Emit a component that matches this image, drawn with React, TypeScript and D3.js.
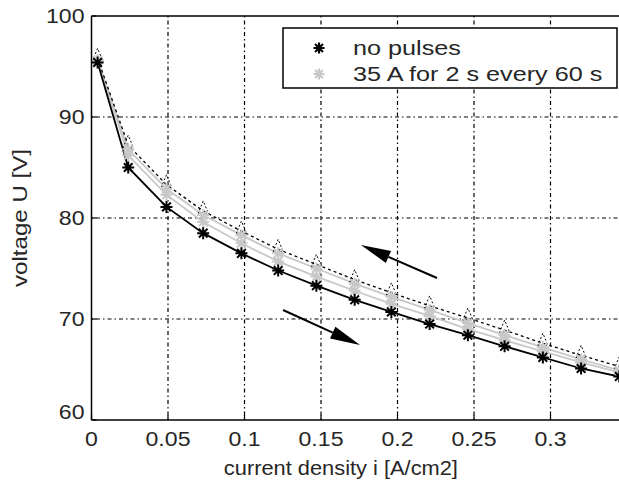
import React from 'react';
import * as d3 from 'd3';

// current density sample points [A/cm2]
const current = [0.004, 0.024, 0.049, 0.073, 0.098, 0.122, 0.147, 0.172, 0.196, 0.221, 0.246, 0.27, 0.295, 0.32, 0.345];

// voltage [V]
const noPulsesUp = [95.4, 85.0, 81.1, 78.5, 76.5, 74.8, 73.3, 71.9, 70.7, 69.5, 68.4, 67.3, 66.2, 65.1, 64.3];
const noPulsesDown = [95.8, 87.2, 83.3, 80.7, 78.7, 76.9, 75.4, 73.9, 72.6, 71.3, 70.1, 68.9, 67.6, 66.4, 65.3];
const pulsesUp = [95.6, 86.2, 82.3, 79.6, 77.5, 75.7, 74.2, 72.8, 71.5, 70.3, 69.0, 67.9, 66.8, 65.7, 64.7];
const pulsesDown = [95.6, 86.8, 82.9, 80.3, 78.3, 76.5, 75.0, 73.5, 72.2, 70.9, 69.6, 68.4, 67.2, 66.0, 64.9];

const xTicks = [0, 0.05, 0.1, 0.15, 0.2, 0.25, 0.3];
const xTickLabels = ['0', '0.05', '0.1', '0.15', '0.2', '0.25', '0.3'];
const yTicks = [60, 70, 80, 90, 100];

const legendLabels = ['no pulses', '35 A for 2 s every 60 s'];

// arrows in data units: [x1, y1, x2(tip), y2(tip)]
const arrowDown = [0.2258, 74.06, 0.1761, 77.33];
const arrowUp = [0.1252, 70.89, 0.1755, 67.43];

const W = 619;
const H = 487;
const GRAY = '#c8c8c8';
const INK = '#262626';
const FONT = 'Liberation Sans, Arial, sans-serif';
const SX = 1.1; // horizontal stretch of the text in the picture

const x = d3.scaleLinear().domain([0, 0.35]).range([91.5, 627]);
const y = d3.scaleLinear().domain([60, 100]).range([420, 16]);

const star = (r: number) => {
  const a = r * 0.72;
  return `M${-r},0L${r},0M0,${-r}L0,${r}M${-a},${-a}L${a},${a}M${-a},${a}L${a},${-a}`;
};

const lineGen = d3
  .line<number>()
  .x((_, i) => x(current[i]))
  .y((v) => y(v));

const Arrow = ({ a }: { a: number[] }) => {
  const x1 = x(a[0]);
  const y1 = y(a[1]);
  const x2 = x(a[2]);
  const y2 = y(a[3]);
  const ang = Math.atan2(y2 - y1, x2 - x1);
  const len = 30;
  const hw = 6.5;
  const bx = x2 - len * Math.cos(ang);
  const by = y2 - len * Math.sin(ang);
  const px = -Math.sin(ang) * hw;
  const py = Math.cos(ang) * hw;
  return (
    <g>
      <line x1={x1} y1={y1} x2={bx} y2={by} stroke="#000" strokeWidth={2} />
      <polygon points={`${x2},${y2} ${bx + px},${by + py} ${bx - px},${by - py}`} fill="#000" />
    </g>
  );
};

const App = () => {
  const grid = '1.5,3,4,3';
  return (
    <svg width={W} height={H} style={{ position: 'absolute', left: 0, top: 0, background: '#fff' }} fontFamily={FONT}>
      <rect x={0} y={0} width={W} height={H} fill="#fff" />
      {/* grid */}
      {xTicks.slice(1).map((t) => (
        <line key={'gx' + t} x1={x(t)} x2={x(t)} y1={y(100)} y2={y(60)} stroke="#000" strokeWidth={1.2} strokeDasharray={grid} />
      ))}
      {yTicks.slice(1, -1).map((t) => (
        <line key={'gy' + t} x1={x(0)} x2={x(0.35)} y1={y(t)} y2={y(t)} stroke="#000" strokeWidth={1.2} strokeDasharray={grid} />
      ))}

      {/* curves */}
      <path d={lineGen(pulsesDown) || ''} fill="none" stroke={GRAY} strokeWidth={1.8} />
      <path d={lineGen(pulsesUp) || ''} fill="none" stroke={GRAY} strokeWidth={1.8} />
      <path d={lineGen(noPulsesDown) || ''} fill="none" stroke="#000" strokeWidth={1.3} strokeDasharray="3,3" />
      {noPulsesDown.map((v, i) => (
        <path
          key={'tri' + i}
          d="M0,-10L-5,2L5,2Z"
          transform={`translate(${x(current[i])},${y(v)})`}
          fill="none"
          stroke="#000"
          strokeWidth={1}
          strokeDasharray="2,2"
        />
      ))}
      <path d={lineGen(noPulsesUp) || ''} fill="none" stroke="#000" strokeWidth={1.8} />
      {[pulsesUp, pulsesDown].map((s, k) =>
        s.map((v, i) => (
          <path key={'gs' + k + i} d={star(6)} transform={`translate(${x(current[i])},${y(v)})`} stroke={GRAY} strokeWidth={2} fill="none" />
        ))
      )}
      {noPulsesUp.map((v, i) => (
        <path key={'bs' + i} d={star(6)} transform={`translate(${x(current[i])},${y(v)})`} stroke="#000" strokeWidth={2} fill="none" />
      ))}

      <Arrow a={arrowDown} />
      <Arrow a={arrowUp} />

      {/* axes box */}
      <line x1={x(0)} x2={x(0.35)} y1={y(100)} y2={y(100)} stroke="#000" strokeWidth={1.5} />
      <line x1={x(0)} x2={x(0.35)} y1={y(60)} y2={y(60)} stroke="#000" strokeWidth={1.5} />
      <line x1={x(0)} x2={x(0)} y1={y(100)} y2={y(60)} stroke="#000" strokeWidth={1.5} />
      {xTicks.map((t) => (
        <line key={'tx' + t} x1={x(t)} x2={x(t)} y1={y(60)} y2={y(60) - 5} stroke="#000" strokeWidth={1.2} />
      ))}
      {yTicks.map((t) => (
        <line key={'ty' + t} x1={x(0)} x2={x(0) + 5} y1={y(t)} y2={y(t)} stroke="#000" strokeWidth={1.2} />
      ))}

      {/* tick labels */}
      {xTicks.map((t, i) => (
        <text key={'lx' + t} transform={`translate(${x(t)},${y(60) + 26}) scale(${SX},1)`} textAnchor="middle" fontSize={21} fill={INK}>
          {xTickLabels[i]}
        </text>
      ))}
      {yTicks.map((t) => (
        <text key={'ly' + t} transform={`translate(${x(0) - 7},${y(t) + (t === 60 ? -1 : 7)}) scale(${SX},1)`} textAnchor="end" fontSize={21} fill={INK}>
          {t}
        </text>
      ))}

      {/* axis titles */}
      <text transform={`translate(${x(0.163)},${H - 12}) scale(1.04,1)`} textAnchor="middle" fontSize={21} fill={INK}>
        current density i [A/cm2]
      </text>
      <text transform={`translate(27,${y(80)}) rotate(-90) scale(1.15,1)`} textAnchor="middle" fontSize={21} fill={INK}>
        voltage U [V]
      </text>

      {/* legend */}
      <rect x={283} y={28} width={334} height={60} fill="#fff" stroke="#000" strokeWidth={1.5} />
      {legendLabels.map((l, i) => (
        <g key={'lg' + i}>
          <path d={star(5.5)} transform={`translate(319,${48 + i * 26})`} stroke={i === 0 ? '#000' : GRAY} strokeWidth={2.2} fill="none" />
          <text transform={`translate(353,${48 + i * 26 + 7}) scale(1.2,1)`} fontSize={21} fill={INK}>
            {l}
          </text>
        </g>
      ))}
    </svg>
  );
};

export default App;
